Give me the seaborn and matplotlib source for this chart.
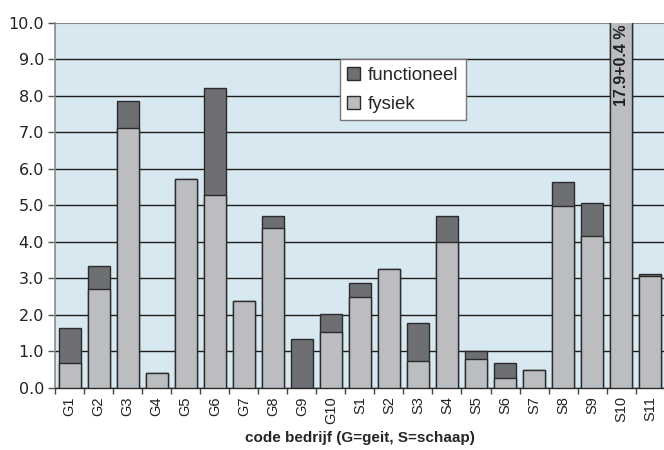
import matplotlib
matplotlib.use("Agg")
import matplotlib.pyplot as plt
import seaborn as sns
import pandas as pd
from matplotlib.ticker import FixedLocator, FormatStrFormatter
from matplotlib.patches import Patch

# bedrijfscodes en waarden (%)
codes = ["G1", "G2", "G3", "G4", "G5", "G6", "G7", "G8", "G9", "G10",
         "S1", "S2", "S3", "S4", "S5", "S6", "S7", "S8", "S9", "S10", "S11"]
fysiek = [0.67, 2.72, 7.12, 0.42, 5.72, 5.28, 2.38, 4.38, 0.0, 1.52,
          2.50, 3.27, 0.73, 4.00, 0.80, 0.28, 0.48, 4.98, 4.15, 17.9, 3.06]
functioneel = [0.98, 0.61, 0.75, 0.0, 0.0, 2.94, 0.0, 0.34, 1.35, 0.50,
               0.37, 0.0, 1.05, 0.72, 0.22, 0.39, 0.0, 0.65, 0.92, 0.4, 0.06]
s10_label = "17.9+0.4 %"

df = pd.DataFrame({"code": codes, "fysiek": fysiek, "functioneel": functioneel})
df["totaal"] = df["fysiek"] + df["functioneel"]

dark = "#6e6f72"
light = "#bcbdc0"
edge = "#2b2b2b"

sns.set_style("white")
plt.rcParams["font.family"] = ["DejaVu Sans"]
arial = ["Liberation Sans", "DejaVu Sans"]

fig = plt.figure(figsize=(6.64, 4.5), dpi=100)
ax = fig.add_axes([0.083, 0.138, 0.918, 0.811])
ax.set_facecolor("#d8e8f0")

sns.barplot(data=df, x="code", y="totaal", color=dark, width=0.76,
            edgecolor=edge, linewidth=1.0, saturation=1, ax=ax, zorder=3)
sns.barplot(data=df, x="code", y="fysiek", color=light, width=0.76,
            edgecolor=edge, linewidth=1.0, saturation=1, ax=ax, zorder=3)

ax.set_ylim(0, 10)
ax.set_xlim(-0.5, len(codes) - 0.5)
ax.yaxis.set_major_locator(FixedLocator([i for i in range(11)]))
ax.yaxis.set_major_formatter(FormatStrFormatter("%.1f"))
ax.grid(axis="y", color="#1e1e1e", linewidth=1.0, zorder=1)
ax.set_axisbelow(True)
ax.get_ygridlines()[-1].set_color("#8a8a8a")
ax.get_ygridlines()[-1].set_linewidth(1.5)

for s in ["top", "right"]:
    ax.spines[s].set_visible(False)
ax.spines["left"].set_color("#8a8a8a")
ax.spines["left"].set_linewidth(1.2)
ax.spines["bottom"].set_color("#2b2b2b")
ax.spines["bottom"].set_linewidth(1.0)

ax.tick_params(axis="y", length=5, width=1, color="#555555", labelsize=11.5,
               labelcolor="#222222", pad=3, left=True)
ax.set_xticks(range(len(codes)))
ax.set_xticklabels(codes, rotation=90, family=arial)
ax.tick_params(axis="x", which="major", length=0, labelsize=10.5,
               labelcolor="#222222", pad=6)
ax.set_xticks([i - 0.5 for i in range(len(codes) + 1)], minor=True)
ax.tick_params(axis="x", which="minor", length=4, width=1, color="#444444",
               bottom=True)

ax.set_ylabel("")
ax.set_xlabel("code bedrijf (G=geit, S=schaap)", fontsize=11,
              fontweight="bold", labelpad=5, family=arial)

# label op de afgekapte S10 balk
ax.text(codes.index("S10"), 9.95, s10_label, rotation=90, ha="center",
        va="top", fontsize=11.5, fontweight="bold", color="#222222",
        family=arial, zorder=5)

handles = [Patch(facecolor=dark, edgecolor=edge, label="functioneel"),
           Patch(facecolor=light, edgecolor=edge, label="fysiek")]
leg = ax.legend(handles=handles, loc="upper left",
                bbox_to_anchor=(0.467, 0.9), frameon=True, fancybox=False,
                prop={"family": arial, "size": 13.5}, handlelength=0.7,
                handleheight=0.7, handletextpad=0.4, borderpad=0.4,
                labelspacing=0.62, borderaxespad=0)
leg.get_frame().set_edgecolor("#777777")
leg.get_frame().set_linewidth(1.0)
leg.get_frame().set_facecolor("white")
leg.get_frame().set_alpha(1)

fig.savefig("out.png", dpi=100)
